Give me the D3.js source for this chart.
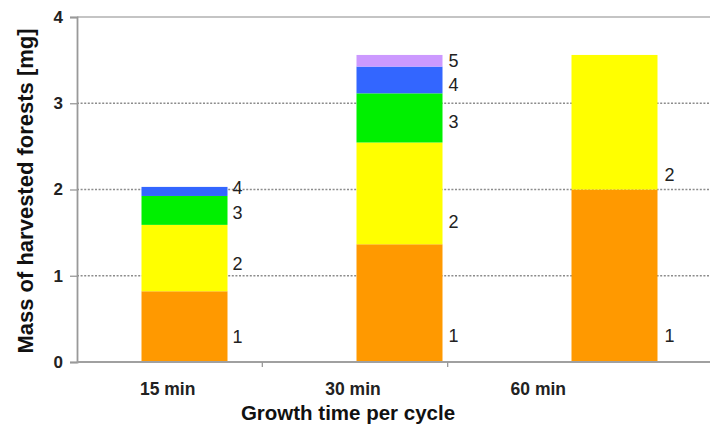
<!DOCTYPE html>
<html>
<head>
<meta charset="utf-8">
<script src="https://cdn.jsdelivr.net/npm/d3@7"></script>
<style>
  body { margin: 0; background: #fff; }
  svg { display: block; font-family: "Liberation Sans", Arial, sans-serif; }
</style>
</head>
<body>
<div id="chart"></div>
<script>
// values (mg per layer)
const categories = ["15 min", "30 min", "60 min"];
const layerNames = ["1", "2", "3", "4", "5"];
const layer1 = [0.82, 1.365, 2.0];
const layer2 = [0.77, 1.18, 1.56];
const layer3 = [0.335, 0.57, 0];
const layer4 = [0.105, 0.31, 0];
const layer5 = [0, 0.135, 0];
// where each layer number sits (in mg)
const labelAt15 = [0.29, 1.14, 1.73, 2.02];
const labelAt30 = [0.31, 1.63, 2.79, 3.22, 3.49];
const labelAt60 = [0.31, 2.17];
const yTicks = [0, 1, 2, 3, 4];

const layerColors = ["#ff9900", "#ffff00", "#00f000", "#3366ff", "#cc99ff"];

const width = 710, height = 429;
const margin = { top: 17, right: -12, bottom: 67, left: 77 };

const svg = d3.select("#chart").append("svg")
  .attr("width", width)
  .attr("height", height);

const plotRight = width - margin.right;
const plotBottom = height - margin.bottom;

let yScale = d3.scaleLinear().domain([0, 4]).range([plotBottom, margin.top]);

// bars sit on a wider band than the category labels
let xBars = d3.scaleBand().domain(categories)
  .range([margin.left, plotRight])
  .paddingInner(0.6).paddingOuter(0.3);
let xLabels = d3.scaleBand().domain(categories).range([margin.left, 633]);

// grid lines
svg.append("g").selectAll("line")
  .data(yTicks.filter(d => d > 0 && d < 4))
  .enter().append("line")
  .attr("x1", margin.left).attr("x2", width)
  .attr("y1", d => yScale(d)).attr("y2", d => yScale(d))
  .attr("stroke", "#8c8c8c")
  .attr("stroke-width", 1.3)
  .attr("stroke-dasharray", "2,1.6");

svg.append("line")
  .attr("x1", margin.left).attr("x2", width)
  .attr("y1", yScale(4)).attr("y2", yScale(4))
  .attr("stroke", "#b0b0b0").attr("stroke-width", 1.5);

// stacked bars
const rows = categories.map((c, i) => ({
  cat: c, l1: layer1[i], l2: layer2[i], l3: layer3[i], l4: layer4[i], l5: layer5[i]
}));
const keys = ["l1", "l2", "l3", "l4", "l5"];
const stacked = d3.stack().keys(keys)(rows);

svg.append("g").selectAll("g")
  .data(stacked)
  .enter().append("g")
  .attr("fill", (d, i) => layerColors[i])
  .selectAll("rect")
  .data(d => d.filter(s => s[1] - s[0] > 0))
  .enter().append("rect")
  .attr("x", d => xBars(d.data.cat))
  .attr("width", xBars.bandwidth())
  .attr("y", d => yScale(d[1]))
  .attr("height", d => yScale(d[0]) - yScale(d[1]));

// layer numbers beside bars
const labelSets = [labelAt15, labelAt30, labelAt60];
labelSets.forEach((set, i) => {
  svg.append("g").selectAll("text")
    .data(set)
    .enter().append("text")
    .attr("x", xBars(categories[i]) + xBars.bandwidth() + 5 + i)
    .attr("y", d => yScale(d))
    .attr("dy", "0.36em")
    .attr("font-size", 18)
    .attr("fill", "#222")
    .text((d, j) => layerNames[j]);
});

// y axis
let yAxis = d3.axisLeft(yScale).tickValues(yTicks).tickFormat(d3.format("d"))
  .tickSize(7).tickPadding(7);
const yG = svg.append("g")
  .attr("transform", `translate(${margin.left},0)`)
  .call(yAxis);
yG.select(".domain").attr("stroke", "#999").attr("stroke-width", 1.8);
yG.selectAll(".tick line").attr("stroke", "#999").attr("stroke-width", 1.3);
yG.selectAll("text")
  .attr("font-size", 17).attr("font-weight", "bold").attr("fill", "#222")
  .attr("font-family", "Liberation Sans, Arial, sans-serif");

// x axis line + category labels
svg.append("line")
  .attr("x1", margin.left).attr("x2", width)
  .attr("y1", plotBottom).attr("y2", plotBottom)
  .attr("stroke", "#a0a0a0").attr("stroke-width", 1.8);

svg.append("g").selectAll("line")
  .data(categories.slice(1))
  .enter().append("line")
  .attr("x1", d => xLabels(d)).attr("x2", d => xLabels(d))
  .attr("y1", plotBottom).attr("y2", plotBottom + 5)
  .attr("stroke", "#999").attr("stroke-width", 1.3);

svg.append("g").selectAll("text")
  .data(categories)
  .enter().append("text")
  .attr("x", d => xLabels(d) + xLabels.bandwidth() / 2 - 2)
  .attr("y", plotBottom + 33)
  .attr("text-anchor", "middle")
  .attr("font-size", 17.5).attr("font-weight", "bold").attr("fill", "#222")
  .text(d => d);

// axis titles
svg.append("text")
  .attr("x", 348).attr("y", 420)
  .attr("text-anchor", "middle")
  .attr("font-size", 20.5).attr("font-weight", "bold").attr("fill", "#111")
  .text("Growth time per cycle");

svg.append("text")
  .attr("transform", "rotate(-90)")
  .attr("x", -191).attr("y", 33)
  .attr("text-anchor", "middle")
  .attr("font-size", 22).attr("font-weight", "bold").attr("fill", "#111")
  .text("Mass of harvested forests [mg]");
</script>
</body>
</html>
